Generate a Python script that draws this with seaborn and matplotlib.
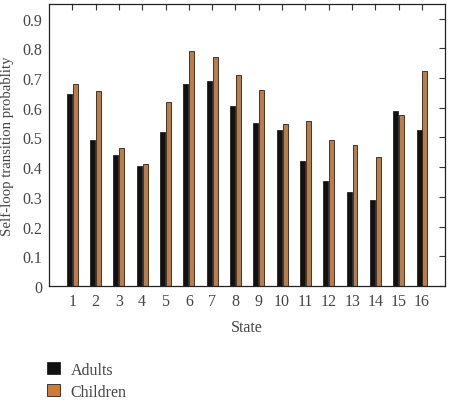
import pandas as pd
import matplotlib.pyplot as plt
import seaborn as sns
from matplotlib.patches import Patch

states = [str(i) for i in range(1, 17)]
adults = [0.645, 0.49, 0.44, 0.405, 0.52, 0.68, 0.69, 0.605,
          0.55, 0.525, 0.42, 0.355, 0.315, 0.29, 0.59, 0.525]
children = [0.68, 0.655, 0.465, 0.41, 0.62, 0.79, 0.77, 0.71,
            0.66, 0.545, 0.555, 0.49, 0.475, 0.435, 0.575, 0.725]
groups = ["Adults", "Children"]

sns.set_style("white")
plt.rcParams["font.family"] = ["Liberation Serif", "DejaVu Serif"]
text_col = "#444444"
fs = 11.5

df = pd.DataFrame({
    "State": states * 2,
    "value": adults + children,
    "group": [groups[0]] * 16 + [groups[1]] * 16,
})
colors = {"Adults": "#111111", "Children": "#cf7a35"}

fig = plt.figure(figsize=(4.51, 4.02), dpi=100)
ax = fig.add_axes([0.109, 0.286, 0.878, 0.702])
sns.barplot(data=df, x="State", y="value", hue="group", palette=colors,
            width=0.5, gap=0.15, edgecolor="#222222", linewidth=0.6,
            legend=False, ax=ax)

ax.set_xlim(-0.99, 15.99)
ax.set_ylim(0, 0.95)
ax.set_yticks([i / 10 for i in range(10)])
ax.set_yticklabels(["0"] + [f"{i / 10:.1f}" for i in range(1, 10)])
ax.set_xlabel("State", fontsize=fs, color=text_col, labelpad=7)
ax.set_ylabel("Self-loop transition probablity", fontsize=10.6, color=text_col,
              labelpad=6)
ax.tick_params(direction="in", top=True, right=True, length=4, width=0.8,
               labelsize=fs, colors="#333333", pad=5)
ax.tick_params(axis="both", labelcolor=text_col)
for s in ax.spines.values():
    s.set_color("#222222")
    s.set_linewidth(0.9)

handles = [Patch(facecolor=colors[g], edgecolor="#222222", linewidth=0.6, label=g)
           for g in groups]
leg = fig.legend(handles=handles, loc="upper left", bbox_to_anchor=(0.073, 0.134),
                 frameon=False, fontsize=fs, handlelength=0.8, handleheight=0.8,
                 labelspacing=0.4, handletextpad=0.65)
for t in leg.get_texts():
    t.set_color(text_col)

fig.savefig("out.png", dpi=100)
